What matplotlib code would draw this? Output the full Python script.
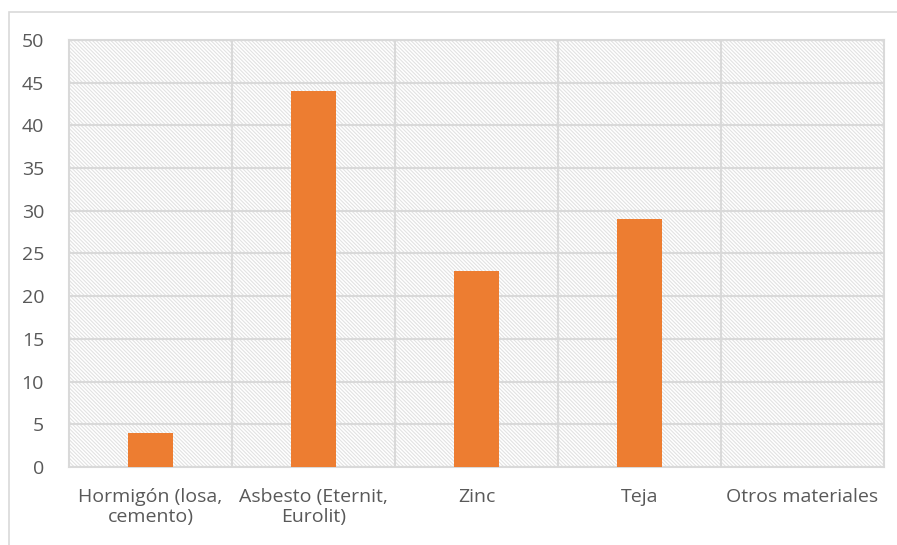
import matplotlib.pyplot as plt
from matplotlib.patches import Rectangle
import numpy as np

categories = ["Hormigón (losa,\ncemento)", "Asbesto (Eternit,\nEurolit)", "Zinc", "Teja", "Otros materiales"]
values = [4, 44, 23, 29, 0]
y_ticks = [0, 5, 10, 15, 20, 25, 30, 35, 40, 45, 50]

plt.rcParams['font.family'] = ['Open Sans', 'DejaVu Sans']
plt.rcParams['hatch.linewidth'] = 0.8
plt.rcParams['hatch.color'] = '#e2e2e2'

grid_col = "#d9d9d9"
text_col = "#595959"

fig = plt.figure(figsize=(8.97, 5.45), dpi=100)
# outer chart border
fig.patches.append(Rectangle((9 / 897, -0.1), 1.0, (545 - 12) / 545 + 0.1,
                             transform=fig.transFigure, fill=False,
                             edgecolor=grid_col, linewidth=1.2))

ax = fig.add_axes([69 / 897, (545 - 467) / 545, (884 - 69) / 897, (467 - 40) / 545])
ax.add_patch(Rectangle((0, 0), 1, 1, transform=ax.transAxes, facecolor="white",
                       edgecolor='#e2e2e2', hatch='\\' * 9, linewidth=0, zorder=0))

x = np.arange(len(categories))
ax.bar(x, values, width=0.27, color="#ed7d31", zorder=3)

ax.set_xlim(-0.5, len(categories) - 0.5)
ax.set_ylim(0, 50)
ax.set_yticks(y_ticks)
ax.set_xticks(x)
ax.set_xticklabels(categories, linespacing=1.15)

for yv in y_ticks:
    ax.axhline(yv, color=grid_col, linewidth=1.5, zorder=1)
for xv in np.arange(0.5, len(categories) - 0.5, 1):
    ax.axvline(xv, color=grid_col, linewidth=1.5, zorder=1)

for s in ax.spines.values():
    s.set_color(grid_col)
    s.set_linewidth(1.5)
    s.set_zorder(2)

ax.tick_params(axis='both', length=0, labelsize=14, labelcolor=text_col)
ax.tick_params(axis='y', pad=18)
ax.tick_params(axis='x', pad=15)

fig.savefig("out.png", dpi=100)
